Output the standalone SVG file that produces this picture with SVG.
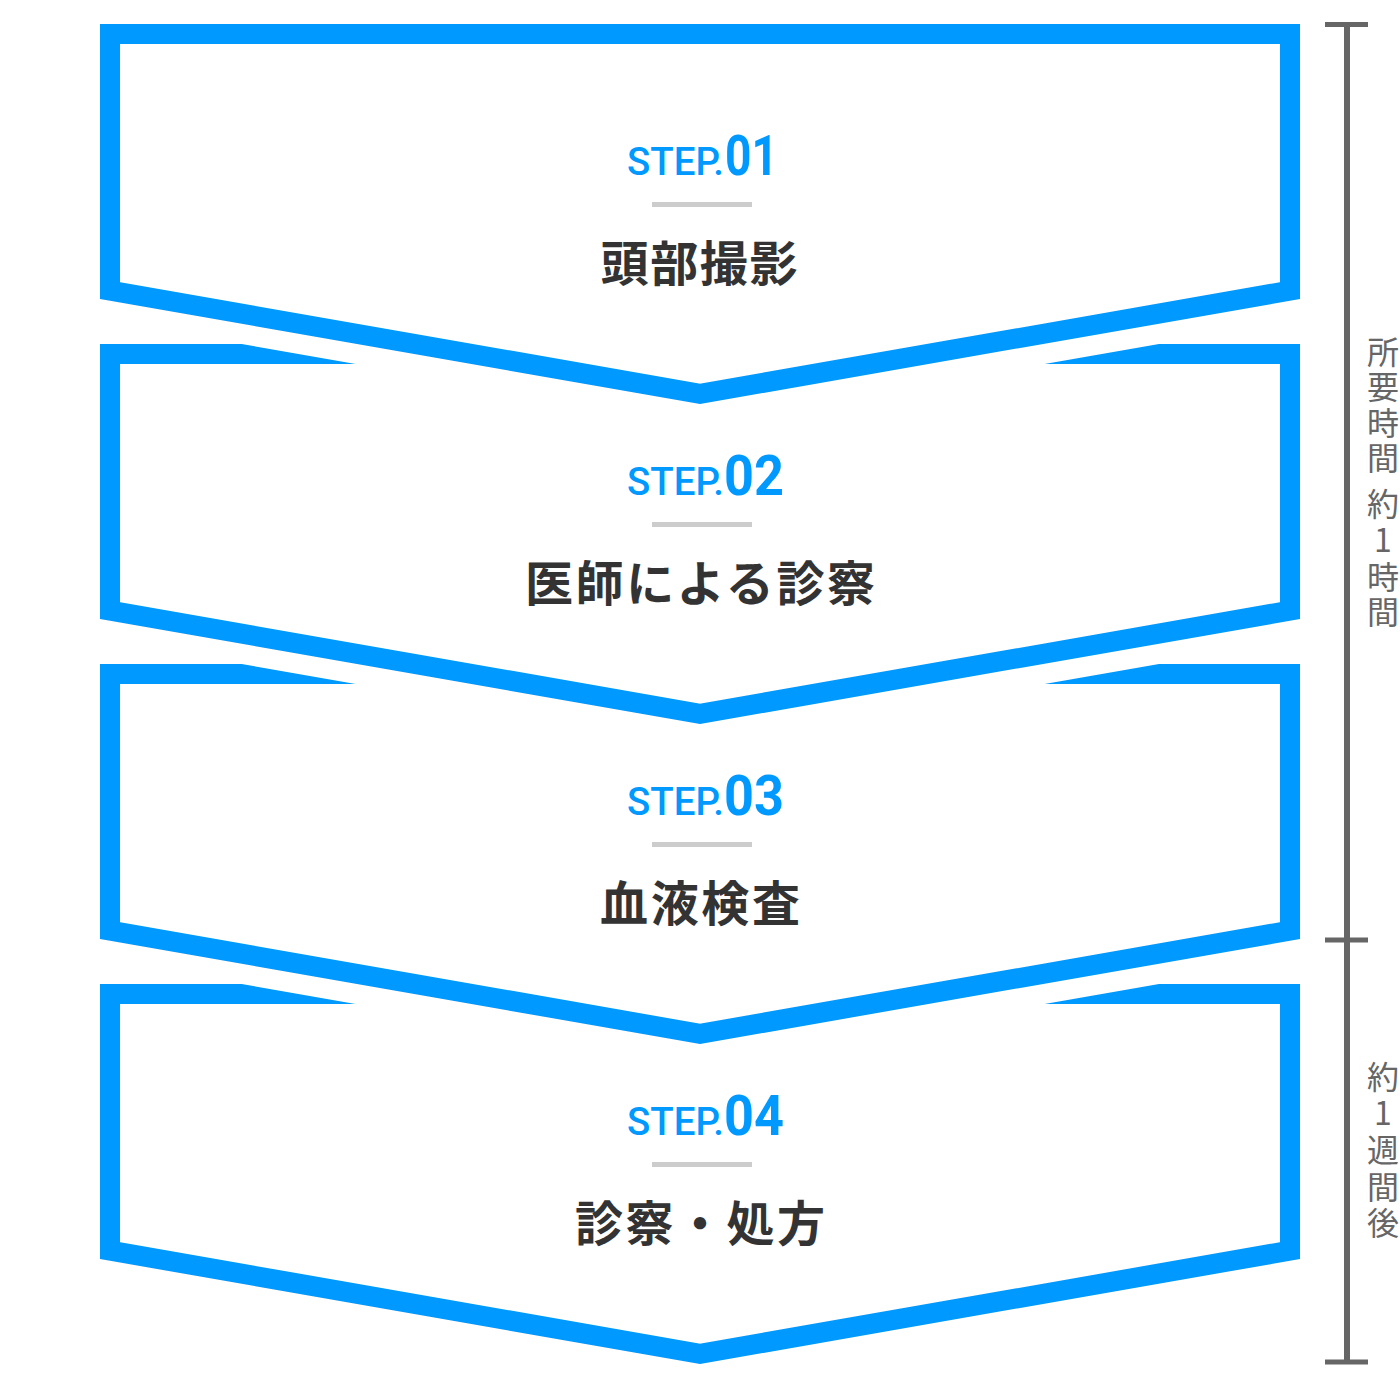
<svg xmlns="http://www.w3.org/2000/svg" width="1400" height="1381" viewBox="0 0 1400 1381">
<style>
.halo{fill:#fff;stroke:#fff;stroke-width:60;stroke-linejoin:miter}
.frame{fill:none;stroke:#0099ff;stroke-width:20;stroke-linejoin:miter}
.step{font-family:Roboto,"Liberation Sans",sans-serif;fill:#0099ff}
.st{font-size:38px;font-weight:500}
.num{font-size:55px;font-weight:700}
.rule{fill:#cccccc}
.title{font-family:"Noto Sans CJK JP","Noto Sans",sans-serif;font-size:48px;font-weight:700;fill:#333333;text-anchor:middle}
.vt{font-family:"Noto Sans CJK JP","Noto Sans",sans-serif;font-size:32px;fill:#666666;text-anchor:middle}
.br{stroke:#666666;fill:none}
</style>
<rect width="1400" height="1381" fill="#ffffff"/>
<g id="step4">
<path class="halo" d="M110,994 H1290 V1250.6 L700,1353.85 L110,1250.6 Z"/>
<path class="frame" d="M110,994 H1290 V1250.6 L700,1353.85 L110,1250.6 Z"/>
<text class="step" y="1135"><tspan class="st" x="627" textLength="97" lengthAdjust="spacingAndGlyphs">STEP.</tspan><tspan class="num" x="724" textLength="60" lengthAdjust="spacingAndGlyphs">04</tspan></text>
<rect class="rule" x="652" y="1162" width="100" height="5"/>
<text class="title" x="700" y="1241" textLength="250" lengthAdjust="spacing">診察・処方</text>
</g>
<g id="step3">
<path class="halo" d="M110,674 H1290 V930.6 L700,1033.85 L110,930.6 Z"/>
<path class="frame" d="M110,674 H1290 V930.6 L700,1033.85 L110,930.6 Z"/>
<text class="step" y="815"><tspan class="st" x="627" textLength="97" lengthAdjust="spacingAndGlyphs">STEP.</tspan><tspan class="num" x="724" textLength="60" lengthAdjust="spacingAndGlyphs">03</tspan></text>
<rect class="rule" x="652" y="842" width="100" height="5"/>
<text class="title" x="700" y="921" textLength="200" lengthAdjust="spacing">血液検査</text>
</g>
<g id="step2">
<path class="halo" d="M110,354 H1290 V610.6 L700,713.85 L110,610.6 Z"/>
<path class="frame" d="M110,354 H1290 V610.6 L700,713.85 L110,610.6 Z"/>
<text class="step" y="495"><tspan class="st" x="627" textLength="97" lengthAdjust="spacingAndGlyphs">STEP.</tspan><tspan class="num" x="724" textLength="60" lengthAdjust="spacingAndGlyphs">02</tspan></text>
<rect class="rule" x="652" y="522" width="100" height="5"/>
<text class="title" x="700" y="601" textLength="350" lengthAdjust="spacing">医師による診察</text>
</g>
<g id="step1">
<path class="halo" d="M110,34 H1290 V290.6 L700,393.85 L110,290.6 Z"/>
<path class="frame" d="M110,34 H1290 V290.6 L700,393.85 L110,290.6 Z"/>
<text class="step" y="175"><tspan class="st" x="627" textLength="97" lengthAdjust="spacingAndGlyphs">STEP.</tspan><tspan class="num" x="725" textLength="53" lengthAdjust="spacingAndGlyphs">01</tspan></text>
<rect class="rule" x="652" y="202" width="100" height="5"/>
<text class="title" x="699" y="281" textLength="197" lengthAdjust="spacing">頭部撮影</text>
</g>
<g id="bracket">
<line class="br" x1="1347" y1="24" x2="1347" y2="1362" stroke-width="6"/>
<line class="br" x1="1325" y1="24.5" x2="1368" y2="24.5" stroke-width="5"/>
<line class="br" x1="1325" y1="940" x2="1368" y2="940" stroke-width="5"/>
<line class="br" x1="1325" y1="1362" x2="1368" y2="1362" stroke-width="5"/>
</g>
<g id="label-time1">
<text class="vt"><tspan x="1383" y="364">所</tspan><tspan x="1383" y="399">要</tspan><tspan x="1383" y="435">時</tspan><tspan x="1383" y="470">間</tspan><tspan x="1383" y="516">約</tspan><tspan x="1383" y="552">1</tspan><tspan x="1383" y="589">時</tspan><tspan x="1383" y="624">間</tspan></text>
</g>
<g id="label-time2">
<text class="vt"><tspan x="1383" y="1089">約</tspan><tspan x="1383" y="1125">1</tspan><tspan x="1383" y="1162">週</tspan><tspan x="1383" y="1199">間</tspan><tspan x="1383" y="1235">後</tspan></text>
</g>
</svg>
